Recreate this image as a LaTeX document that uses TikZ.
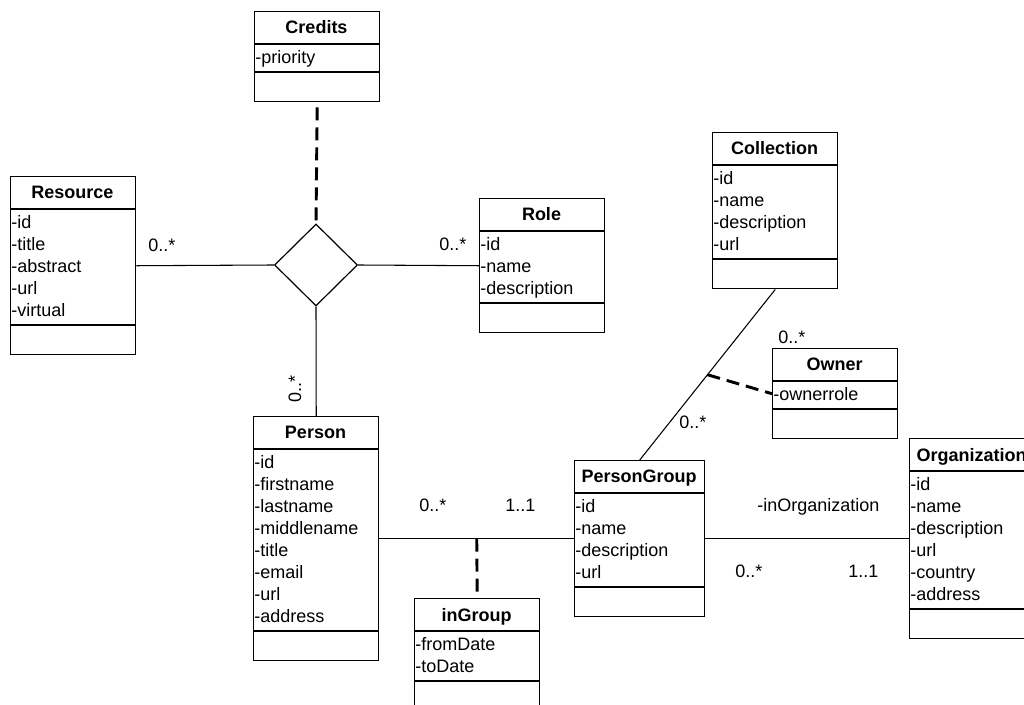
\documentclass[tikz,border=0pt]{standalone}
\usepackage{fontspec}
\setmainfont{Liberation Sans}
\usetikzlibrary{shapes.geometric}

\newcommand{\diagfont}{\fontsize{13.5}{16.5}\selectfont}

\tikzset{
  classbox/.style={draw, line width=1.1pt, inner sep=0pt, anchor=north west},
  classtitle/.style={font=\diagfont\bfseries, inner sep=0pt, anchor=base},
  attr/.style={inner sep=0pt, anchor=base west},
  mult/.style={inner sep=0pt, anchor=base west},
  assoc/.style={line width=0.8pt},
  assocdash/.style={line width=2.2pt, dash pattern=on 9.75pt off 5.25pt},
}

% #1 name, #2 top left corner, #3 width, #4 title, #5 number of attributes, #6 attributes
\newcommand{\umlclass}[6]{%
  \begin{scope}[shift={#2}]
    \pgfmathsetmacro{\attrbottom}{33+22*#5+6}
    \node[classbox, minimum width=#3*0.75pt, minimum height=(\attrbottom+29)*0.75pt] (#1) at (0,0) {};
    \draw [line width=1.1pt] (0,33) -- (#3,33);
    \draw [line width=1.1pt] (0,\attrbottom) -- (#3,\attrbottom);
    \node[classtitle] (#1-title) at (#3/2,23) {#4};
    \foreach \field [count=\i] in {#6}
      \node[attr] (#1-attr\i) at (1,{33+22*\i-2.5}) {\field};
  \end{scope}}

\begin{document}
\begin{tikzpicture}[x=0.75pt, y=-0.75pt, font=\diagfont]
\useasboundingbox (0,0) rectangle (1024,705);
\clip (0,0) rectangle (1024,705);

\umlclass{credits}{(254,11)}{125}{Credits}{1}{-priority}
\umlclass{resource}{(10,176)}{125}{Resource}{5}{-id,-title,-abstract,-url,-virtual}
\umlclass{role}{(479,198)}{125}{Role}{3}{-id,-name,-description}
\umlclass{collection}{(712,132)}{125}{Collection}{4}{-id,-name,-description,-url}
\umlclass{owner}{(772,348)}{125}{Owner}{1}{-ownerrole}
\umlclass{person}{(253,416)}{125}{Person}{8}{-id,-firstname,-lastname,-middlename,-title,-email,-url,-address}
\umlclass{persongroup}{(574,460)}{130}{PersonGroup}{4}{-id,-name,-description,-url}
\umlclass{ingroup}{(414,598)}{125}{inGroup}{2}{-fromDate,-toDate}
\umlclass{organization}{(909,438)}{125}{Organization}{6}{-id,-name,-description,-url,-country,-address}

% ternary association
\node[draw, diamond, line width=0.9pt, inner sep=0pt, minimum width=83*0.75pt, minimum height=82*0.75pt] (credits-link) at (316,265) {};
\draw [assoc] (resource.east) -- (credits-link.west);
\draw [assoc] (credits-link.east) -- (role.west);
\draw [assoc] (credits-link.south) -- (person.north);
\draw [assocdash, shorten <=3.75pt] (credits.south) -- (credits-link.north);

\draw [assoc] (person.east) -- coordinate[midway] (ingroup-link) (persongroup.west);
\draw [assocdash, shorten >=3.75pt] (ingroup-link) -- (ingroup.north);

\draw [assoc] (collection.south) -- coordinate[midway] (owner-link) (persongroup.north);
\draw [assocdash] (owner-link) -- (owner.west);

\draw [assoc] (persongroup.east) -- (organization.west);

% multiplicities
\node[mult] (resource-mult) at (148,252) {0..*};
\node[mult] (role-mult) at (439,251) {0..*};
\node[mult, rotate=90] (person-mult) at (301,403) {0..*};
\node[mult] (person-group-mult) at (419,511) {0..*};
\node[mult] (group-person-mult) at (505,511) {1..1};
\node[mult] (owner-mult) at (778,344) {0..*};
\node[mult] (group-coll-mult) at (679,429) {0..*};
\node[mult] (inorg-name) at (757,511) {-inOrganization};
\node[mult] (group-org-mult) at (735,577) {0..*};
\node[mult] (org-group-mult) at (848,577) {1..1};
\end{tikzpicture}
\end{document}
